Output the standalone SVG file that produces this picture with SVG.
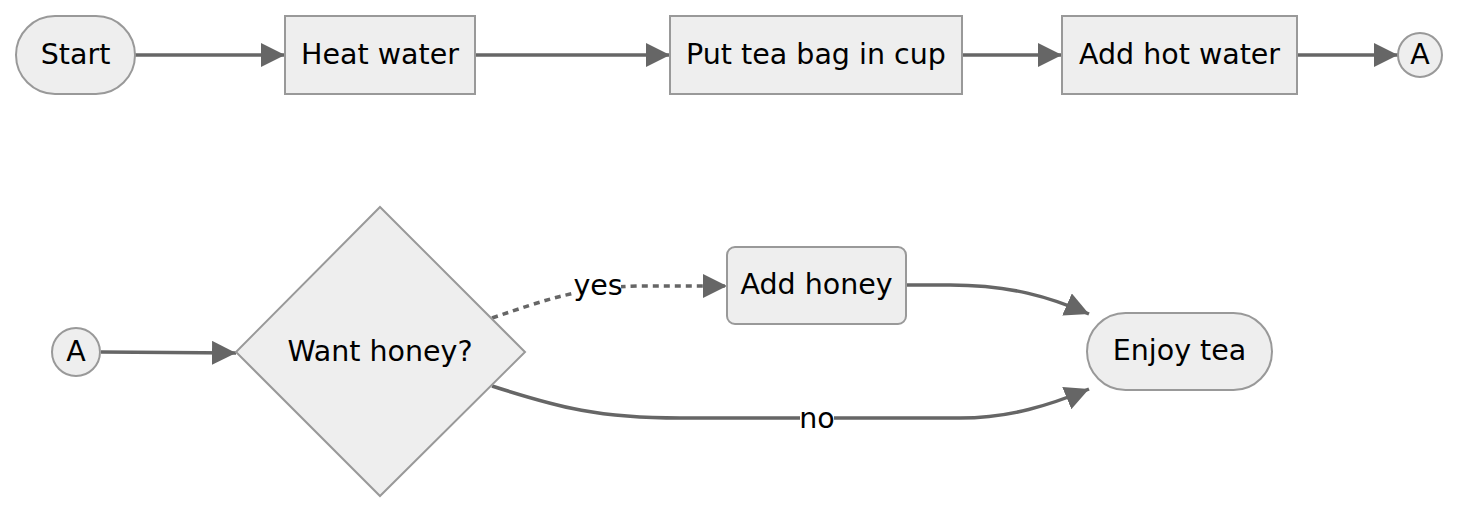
<svg xmlns="http://www.w3.org/2000/svg" width="1462" height="512" viewBox="0 0 1462 512">
<style>
.node{fill:#eeeeee;stroke:#999999;stroke-width:2}
.lbl{font-family:"DejaVu Sans","Noto Sans",sans-serif;font-size:28.5px;fill:#000;text-anchor:middle;dominant-baseline:central}
.edge{fill:none;stroke:#666666;stroke-width:3.5}
.dash{stroke-dasharray:6 5}
.bg{fill:#ffffff}
</style>
<defs>
<marker id="arr" viewBox="0 0 10 10" refX="10" refY="5" markerWidth="24" markerHeight="24" markerUnits="userSpaceOnUse" orient="auto">
<path d="M0,0 L10,5 L0,10 z" fill="#666666"/>
</marker>
</defs>
<g id="connectors">
<path class="edge" d="M135,55 L285,55" marker-end="url(#arr)"/>
<path class="edge" d="M475,55 L670,55" marker-end="url(#arr)"/>
<path class="edge" d="M962,55 L1062,55" marker-end="url(#arr)"/>
<path class="edge" d="M1297,55 L1398,55" marker-end="url(#arr)"/>
<path class="edge" d="M101,352 L236,353" marker-end="url(#arr)"/>
<path class="edge dash" d="M492,318 C545,300 580,287 640,286 L727,286" marker-end="url(#arr)"/>
<path class="edge" d="M906,285 L950,285 C1010,285 1050,297 1089,314" marker-end="url(#arr)"/>
<path class="edge" d="M492,386 C560,408 600,418 680,418 L960,418 C1010,418 1050,405 1089,389" marker-end="url(#arr)"/>
<g id="edge-labels">
<rect class="bg" x="575" y="272" width="46" height="27"/>
<text class="lbl" x="598" y="285">yes</text>
<rect class="bg" x="800" y="405" width="34" height="27"/>
<text class="lbl" x="817" y="418">no</text>
</g>
</g>
<g id="start"><rect class="node" x="16" y="16" width="119" height="78" rx="39"/><text class="lbl" x="75.5" y="54">Start</text></g>
<g id="heat"><rect class="node" x="285" y="16" width="190" height="78"/><text class="lbl" x="380" y="54">Heat water</text></g>
<g id="teabag"><rect class="node" x="670" y="16" width="292" height="78"/><text class="lbl" x="816" y="54">Put tea bag in cup</text></g>
<g id="hotwater"><rect class="node" x="1062" y="16" width="235" height="78"/><text class="lbl" x="1179.5" y="54">Add hot water</text></g>
<g id="a1"><circle class="node" cx="1420" cy="55" r="22"/><text class="lbl" x="1420" y="54">A</text></g>
<g id="a2"><circle class="node" cx="76" cy="352" r="24"/><text class="lbl" x="76" y="351">A</text></g>
<g id="decision"><polygon class="node" points="380,207 525,352 380,496 236,352"/><text class="lbl" x="380" y="351">Want honey?</text></g>
<g id="honey"><rect class="node" x="727" y="247" width="179" height="77" rx="8"/><text class="lbl" x="816.5" y="284">Add honey</text></g>
<g id="enjoy"><rect class="node" x="1087" y="313" width="185" height="77" rx="38.5"/><text class="lbl" x="1179.5" y="350.5">Enjoy tea</text></g>
</svg>
